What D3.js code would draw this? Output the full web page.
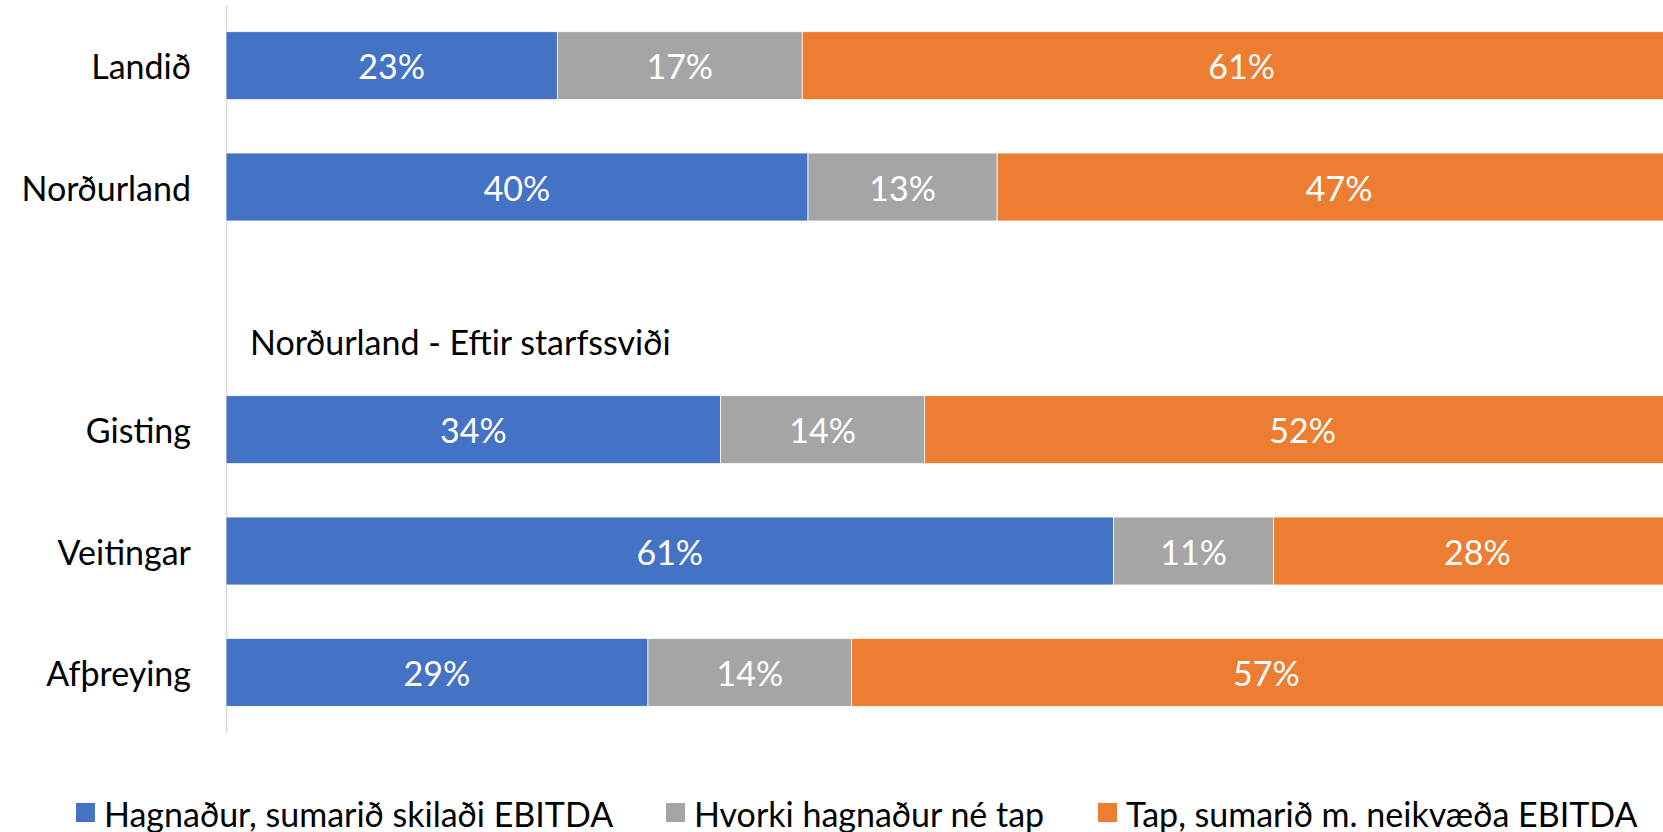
<!DOCTYPE html>
<html>
<head>
<meta charset="utf-8">
<script src="https://cdn.jsdelivr.net/npm/d3@7"></script>
<style>
  body { margin: 0; background: #fff; }
  svg { display: block; font-family: Lato, "Open Sans", sans-serif; }
</style>
</head>
<body>
<div id="chart"></div>
<script>
// rows of the chart; "spacer" is the empty slot that carries the sub title
const categories = ["Landið", "Norðurland", "spacer", "Gisting", "Veitingar", "Afþreying"];
const seriesNames = ["Hagnaður, sumarið skilaði EBITDA", "Hvorki hagnaður né tap", "Tap, sumarið m. neikvæða EBITDA"];
const hagnadur = [23, 40, null, 34, 61, 29];
const hvorki   = [17, 13, null, 14, 11, 14];
const tap      = [61, 47, null, 52, 28, 57];
const subTitle = "Norðurland - Eftir starfssviði";
const colors = ["#4472C4", "#A5A5A5", "#ED7D31"];

(function stackedBars(){
  let width = 1663,
  height = 832,
  fontSize = "34px",
  margin = ({ top: 5, right: -18, bottom: 99, left: 226 });

  const svg = d3.select("#chart")
    .append("svg")
    .attr("width", width)
    .attr("height", height);

  // build rows, normalised to 100% like the original stacked chart
  const rows = categories.map((c, i) => {
    const vals = [hagnadur[i], hvorki[i], tap[i]];
    return { cat: c, vals: vals };
  }).filter(d => d.vals[0] != null);

  const keys = [0, 1, 2];
  const stacked = d3.stack()
    .keys(keys)
    .value((d, k) => d.vals[k])
    .offset(d3.stackOffsetExpand)(rows);

  let x = d3.scaleLinear()
    .domain([0, 1])
    .range([margin.left, width - margin.right]);

  let y = d3.scaleBand()
    .domain(categories)
    .range([margin.top, height - margin.bottom])
    .paddingInner(0.44)
    .paddingOuter(0.22);

  // vertical category axis line
  svg.append("line")
    .attr("x1", margin.left + 0.5)
    .attr("x2", margin.left + 0.5)
    .attr("y1", margin.top)
    .attr("y2", height - margin.bottom)
    .attr("stroke", "#d9d9d9")
    .attr("stroke-width", 1.5);

  const layer = svg.append("g")
    .selectAll("g")
    .data(stacked)
    .join("g")
    .attr("fill", d => colors[d.key]);

  layer.selectAll("rect")
    .data(d => d.map(s => ({ s: s, key: d.key })))
    .join("rect")
    .attr("x", d => x(d.s[0]))
    .attr("y", d => y(d.s.data.cat))
    .attr("width", d => x(d.s[1]) - x(d.s[0]))
    .attr("height", y.bandwidth())
    .attr("stroke", "#fff")
    .attr("stroke-width", 0.75);

  // value labels centred in each segment (the last one is cut by the page edge)
  layer.selectAll("text")
    .data(d => d.map(s => ({ s: s, key: d.key })))
    .join("text")
    .attr("x", d => (x(d.s[0]) + x(d.s[1])) / 2)
    .attr("y", d => y(d.s.data.cat) + y.bandwidth() / 2)
    .attr("text-anchor", "middle")
    .attr("dominant-baseline", "central")
    .attr("fill", "#fff")
    .style("font-size", fontSize)
    .text(d => d.s.data.vals[d.key] + "%");

  // category labels
  svg.append("g")
    .selectAll("text")
    .data(rows)
    .join("text")
    .attr("x", margin.left - 35)
    .attr("y", d => y(d.cat) + y.bandwidth() / 2)
    .attr("text-anchor", "end")
    .attr("dominant-baseline", "central")
    .attr("fill", "#000")
    .style("font-size", fontSize)
    .text(d => d.cat);

  // sub title inside the empty slot
  svg.append("text")
    .attr("x", margin.left + 24)
    .attr("y", y("spacer") + y.bandwidth() / 2 + 33)
    .attr("dominant-baseline", "central")
    .attr("fill", "#000")
    .style("font-size", fontSize)
    .text(subTitle);

  // legend
  const legendX = [76, 666, 1098];
  const legendY = 813;
  const lg = svg.append("g")
    .selectAll("g")
    .data(seriesNames)
    .join("g")
    .attr("transform", (d, i) => `translate(${legendX[i]},${legendY})`);

  lg.append("rect")
    .attr("x", 0)
    .attr("y", -10)
    .attr("width", 19)
    .attr("height", 19)
    .attr("fill", (d, i) => colors[i]);

  lg.append("text")
    .attr("x", 28)
    .attr("y", 0)
    .attr("dominant-baseline", "central")
    .attr("fill", "#000")
    .style("font-size", fontSize)
    .text(d => d);
})();
</script>
</body>
</html>
